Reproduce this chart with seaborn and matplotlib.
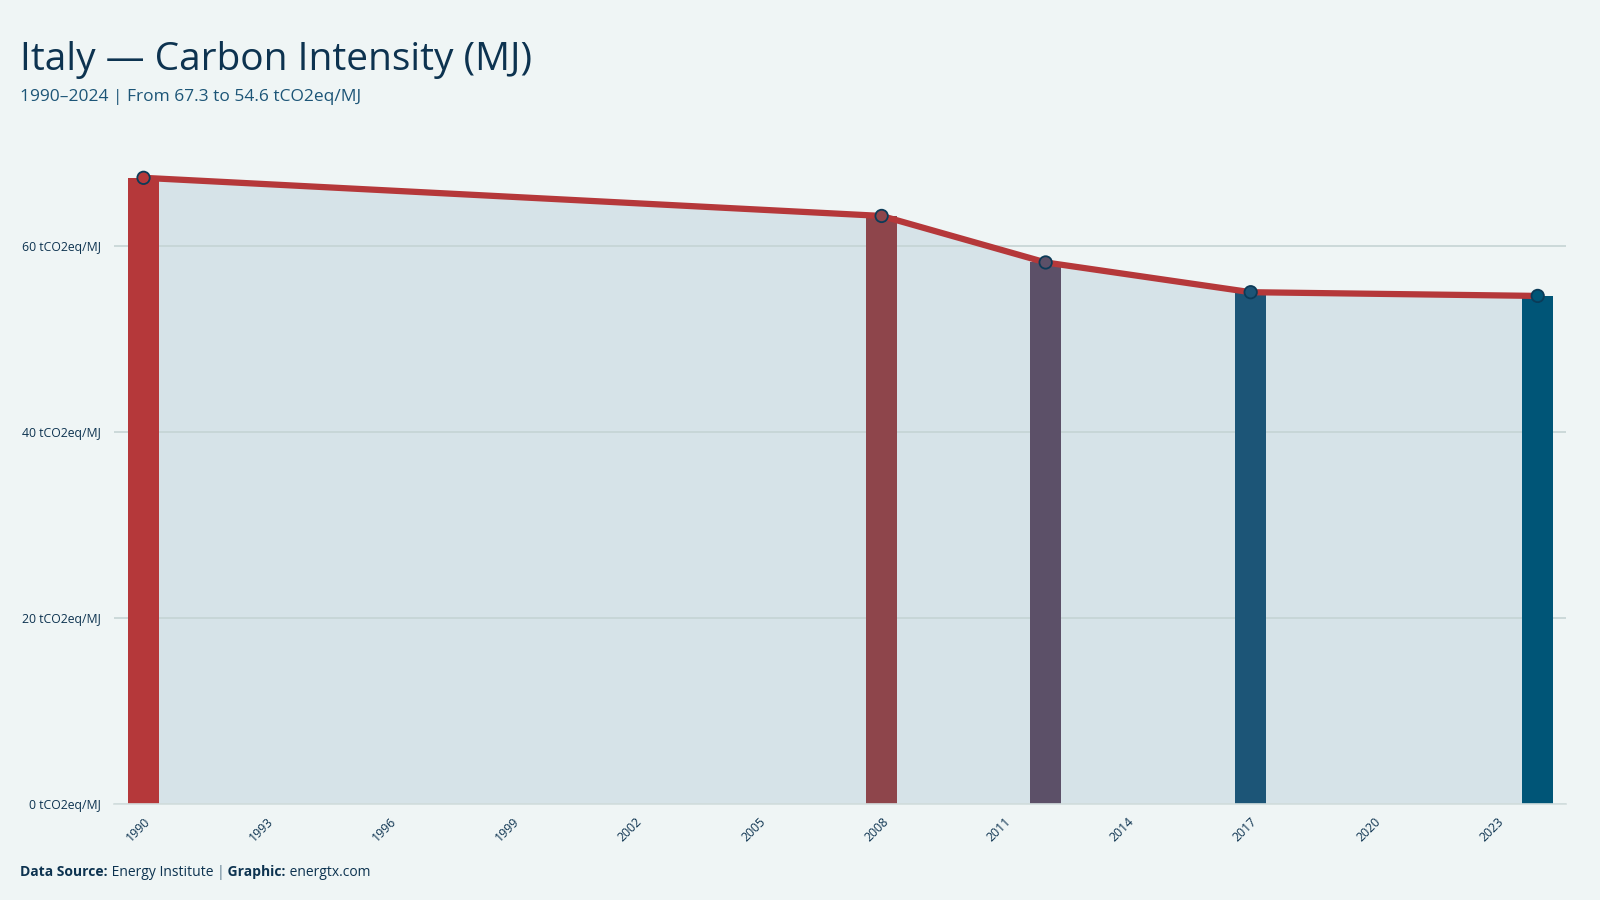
import matplotlib
matplotlib.use("Agg")
import matplotlib.pyplot as plt
import seaborn as sns
import pandas as pd

# ---------------------------
# Data
# ---------------------------
years = [1990, 2008, 2012, 2017, 2024]
intensity = [67.3, 63.2, 58.2, 55.0, 54.6]
bar_colors = ["#b5383a", "#8e454b", "#5c5068", "#1c5577", "#005577"]
tick_years = list(range(1990, 2024, 3))

title = "Italy \u2014 Carbon Intensity (MJ)"
subtitle = "1990\u20132024 | From 67.3 to 54.6 tCO2eq/MJ"

# ---------------------------
# Style
# ---------------------------
bg = "#eff5f5"
navy = "#0d3350"
sns.set_theme(style="white")
plt.rcParams["font.family"] = ["Open Sans", "DejaVu Sans"]

df = pd.DataFrame({"year": years, "value": intensity, "label": [str(y) for y in years]})
palette = dict(zip(df["label"], bar_colors))

fig = plt.figure(figsize=(16, 9), dpi=100, facecolor=bg)
ax = fig.add_axes([0.071, 0.107, 0.908, 0.744])
ax.set_facecolor(bg)

# area under the line
ax.fill_between(df["year"], df["value"], 0, color="#d6e3e8", zorder=0.2, lw=0)

sns.barplot(data=df, x="year", y="value", hue="label", palette=palette,
            native_scale=True, width=0.75 / 4, legend=False, ax=ax,
            saturation=1, linewidth=0, zorder=2)

sns.lineplot(data=df, x="year", y="value", color="#b5383a", lw=4.5, ax=ax,
             zorder=3)
sns.scatterplot(data=df, x="year", y="value", hue="label", palette=palette,
                s=80, edgecolor="#0b3b58", linewidth=1.3, legend=False,
                ax=ax, zorder=4)

ax.set_xlim(1989.27, 2024.7)
ax.set_ylim(0, 72)
ax.set_yticks([0, 20, 40, 60])
ax.set_yticklabels([f"{v} tCO2eq/MJ" for v in [0, 20, 40, 60]])
ax.set_xticks(tick_years)
ax.set_xticklabels([str(y) for y in tick_years], rotation=45, ha="right",
                   rotation_mode="anchor")
ax.tick_params(axis="both", length=0, labelsize=8.8, colors=navy)
ax.tick_params(axis="y", pad=9)
ax.tick_params(axis="x", pad=8)
ax.set_xlabel("")
ax.set_ylabel("")

ax.set_axisbelow(True)
ax.yaxis.grid(True, color="#c5d4d4", lw=1.2)
ax.xaxis.grid(False)
for side in ["top", "right", "left"]:
    ax.spines[side].set_visible(False)
ax.spines["bottom"].set_color("#d3dede")
ax.spines["bottom"].set_linewidth(1.2)

# ---------------------------
# Titles and footer
# ---------------------------
fig.text(0.0125, 0.922, title, fontsize=28, color=navy, va="baseline")
fig.text(0.0125, 0.888, subtitle, fontsize=12.5, color="#1c5577", va="baseline")

# footer pieces placed left to right
parts = [("Data Source:", "bold", navy), (" Energy Institute ", "normal", navy),
         ("|", "normal", "#5f7d90"), (" Graphic:", "bold", navy),
         (" energtx.com", "normal", navy)]
renderer = fig.canvas.get_renderer()
x_pos = 0.0125
for txt, weight, col in parts:
    t = fig.text(x_pos, 0.027, txt, fontsize=10, fontweight=weight, color=col,
                 va="baseline", ha="left")
    x_pos += t.get_window_extent(renderer=renderer).width / fig.bbox.width

fig.savefig("out.png", dpi=100, facecolor=bg)
